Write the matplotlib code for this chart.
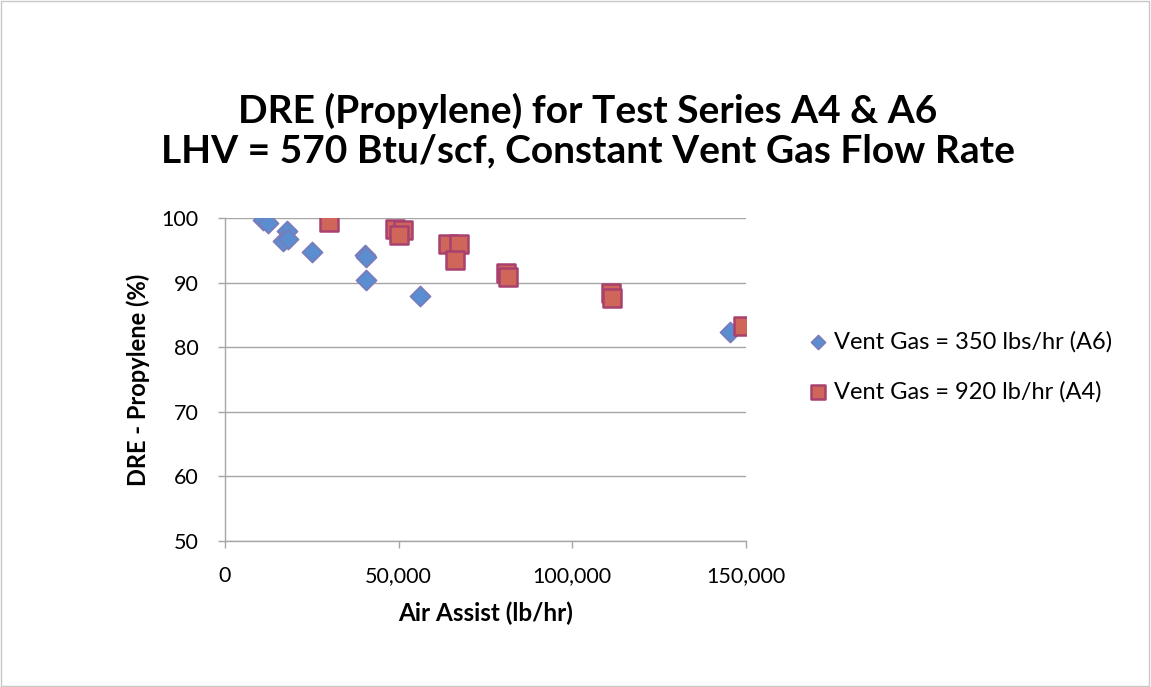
import matplotlib
matplotlib.use("Agg")
import matplotlib.pyplot as plt
from matplotlib.patches import Rectangle
from matplotlib.ticker import FuncFormatter, MultipleLocator

plt.rcParams['font.family'] = ['Lato', 'DejaVu Sans']

title_lines = ["DRE (Propylene) for Test Series A4 & A6",
               "LHV = 570 Btu/scf, Constant Vent Gas Flow Rate"]
xlabel = "Air Assist (lb/hr)"
ylabel = "DRE - Propylene (%)"

a6_label = "Vent Gas = 350 lbs/hr (A6)"
a6_x = [11000, 12500, 17800, 16800, 18200, 25000, 40300, 40500, 40500, 56200, 145400]
a6_y = [99.75, 99.3, 98.0, 96.5, 96.8, 94.7, 94.3, 94.0, 90.4, 87.9, 82.4]

a4_label = "Vent Gas = 920 lb/hr (A4)"
a4_x = [30000, 48900, 51300, 50100, 64300, 67300, 66200, 80900, 81600, 111100, 111500, 149000]
a4_y = [99.4, 98.3, 98.2, 97.3, 95.9, 96.0, 93.5, 91.5, 90.8, 88.4, 87.6, 83.3]

fig = plt.figure(figsize=(11.51, 6.87), dpi=100)
fig.patches.append(Rectangle((0.001, 0.001), 0.997, 0.997, transform=fig.transFigure,
                             fill=False, edgecolor='#C8C8C8', linewidth=1.0))
ax = fig.add_axes([225/1151, 1-541/687, 521/1151, 323/687])

ax.scatter(a6_x, a6_y, marker='D', s=105, facecolor='#5A8ED0', edgecolor='#7B7BB8',
           linewidth=1.2, zorder=3, label=a6_label)
ax.scatter(a4_x, a4_y, marker='s', s=180, facecolor='#D0655A', edgecolor='#A8416F',
           linewidth=1.8, zorder=3, label=a4_label)

ax.set_xlim(0, 150000)
ax.set_ylim(50, 100)
ax.xaxis.set_major_locator(MultipleLocator(50000))
ax.yaxis.set_major_locator(MultipleLocator(10))
ax.xaxis.set_major_formatter(FuncFormatter(lambda v, p: f"{int(v):,}"))
ax.grid(axis='y', color='#A6A6A6', linewidth=1.0, zorder=0)
ax.set_axisbelow(True)
for s in ['top', 'right']:
    ax.spines[s].set_visible(False)
for s in ['left', 'bottom']:
    ax.spines[s].set_color('#A6A6A6')
    ax.spines[s].set_linewidth(1.0)
ax.tick_params(axis='both', colors='#A6A6A6', labelcolor='black', labelsize=15.5,
               length=5, width=1.0, direction='out')
ax.tick_params(axis='x', pad=13)
ax.tick_params(axis='y', pad=14)
ax.set_xlabel(xlabel, fontsize=17.5, fontweight='bold', labelpad=11)
ax.set_ylabel(ylabel, fontsize=17, fontweight='bold', labelpad=8)

fig.text(588/1151, 1-111/687, title_lines[0], ha='center', va='center', fontsize=28,
         fontweight='bold')
fig.text(588/1151, 1-151/687, title_lines[1], ha='center', va='center', fontsize=28,
         fontweight='bold')

leg = ax.legend(loc='center left', bbox_to_anchor=(1.1, 0.54), frameon=False,
                fontsize=17, handletextpad=0.2, handlelength=0.9, labelspacing=1.2,
                markerscale=0.7, borderaxespad=0)

fig.savefig("out.png", dpi=100)
